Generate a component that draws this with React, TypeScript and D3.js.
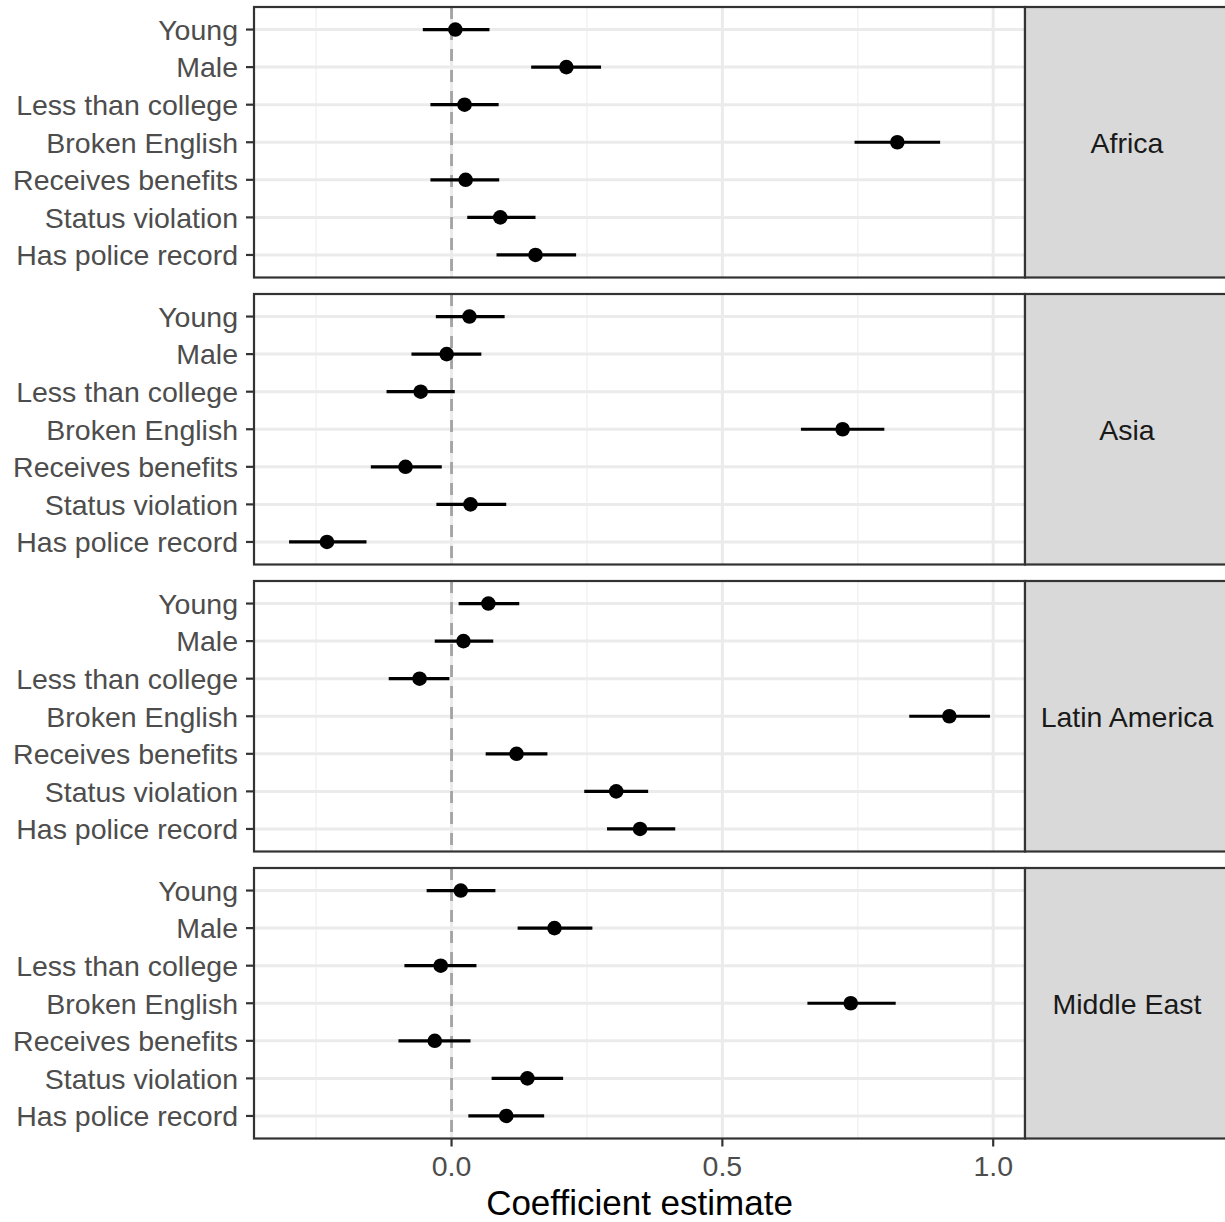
import React from "react";
import * as d3 from "d3";

// facet regions
const regions = ["Africa", "Asia", "Latin America", "Middle East"];

// predictors, top to bottom
const predictors = [
  "Young",
  "Male",
  "Less than college",
  "Broken English",
  "Receives benefits",
  "Status violation",
  "Has police record",
];

// point estimates per region (same order as predictors)
const estAfrica = [0.007, 0.212, 0.024, 0.823, 0.026, 0.09, 0.155];
const estAsia = [0.033, -0.009, -0.057, 0.722, -0.085, 0.035, -0.23];
const estLatin = [0.068, 0.022, -0.059, 0.919, 0.12, 0.304, 0.348];
const estMiddle = [0.017, 0.19, -0.02, 0.737, -0.031, 0.14, 0.101];

// lower / upper confidence bounds
const lowAfrica = [-0.053, 0.147, -0.039, 0.744, -0.039, 0.029, 0.083];
const highAfrica = [0.07, 0.276, 0.087, 0.902, 0.088, 0.155, 0.23];
const lowAsia = [-0.029, -0.074, -0.12, 0.645, -0.149, -0.028, -0.3];
const highAsia = [0.098, 0.055, 0.006, 0.799, -0.018, 0.101, -0.157];
const lowLatin = [0.013, -0.031, -0.116, 0.845, 0.063, 0.245, 0.287];
const highLatin = [0.125, 0.077, -0.004, 0.994, 0.177, 0.363, 0.413];
const lowMiddle = [-0.046, 0.122, -0.087, 0.657, -0.098, 0.074, 0.031];
const highMiddle = [0.081, 0.26, 0.046, 0.82, 0.035, 0.206, 0.171];

const xTicks = [0, 0.5, 1.0];
const xMinor = [-0.25, 0.25, 0.75];

const estimates = [estAfrica, estAsia, estLatin, estMiddle];
const lows = [lowAfrica, lowAsia, lowLatin, lowMiddle];
const highs = [highAfrica, highAsia, highLatin, highMiddle];

const W = 1225;
const H = 1222;
const panelLeft = 254;
const panelRight = 1025;
const firstTop = 7;
const panelH = 270.5;
const gap = 16.5;
const font = "'Liberation Sans', Arial, Helvetica, sans-serif";
const smallSize = 28.5;
const titleSize = 35;

export default function App() {
  const allLow = d3.min(lows.flat()) as number;
  const allHigh = d3.max(highs.flat()) as number;
  const pad = (allHigh - allLow) * 0.05;
  const x = d3.scaleLinear().domain([allLow - pad, allHigh + pad]).range([panelLeft, panelRight]);

  // discrete axis, 0.6 expansion like ggplot
  const y = d3.scalePoint<string>().domain(predictors).range([0, panelH]).padding(0.6);

  const bottom = firstTop + regions.length * panelH + (regions.length - 1) * gap;

  return (
    <svg
      width={W}
      height={H}
      style={{ position: "absolute", left: 0, top: 0, background: "#fff" }}
      fontFamily={font}
    >
      {regions.map((reg, ri) => {
        const top = firstTop + ri * (panelH + gap);
        return (
          <g key={reg} transform={`translate(0,${top})`}>
            <rect x={panelLeft} y={0} width={panelRight - panelLeft} height={panelH} fill="#fff" />
            {xMinor.map((t) => (
              <line key={"m" + t} x1={x(t)} x2={x(t)} y1={0} y2={panelH} stroke="#F2F2F2" strokeWidth={1.5} />
            ))}
            {predictors.map((p) => (
              <line key={"h" + p} x1={panelLeft} x2={panelRight} y1={y(p)} y2={y(p)} stroke="#EBEBEB" strokeWidth={3} />
            ))}
            {xTicks.map((t) => (
              <line key={"v" + t} x1={x(t)} x2={x(t)} y1={0} y2={panelH} stroke="#EBEBEB" strokeWidth={3} />
            ))}
            <line
              x1={x(0)}
              x2={x(0)}
              y1={0}
              y2={panelH}
              stroke="#A3A3A3"
              strokeWidth={2.8}
              strokeDasharray="12,9"
            />
            {predictors.map((p, i) => (
              <g key={"e" + p}>
                <line
                  x1={x(lows[ri][i])}
                  x2={x(highs[ri][i])}
                  y1={y(p)}
                  y2={y(p)}
                  stroke="#000"
                  strokeWidth={3.2}
                />
                <circle cx={x(estimates[ri][i])} cy={y(p)} r={7.3} fill="#000" />
              </g>
            ))}
            <rect
              x={panelLeft}
              y={0}
              width={panelRight - panelLeft}
              height={panelH}
              fill="none"
              stroke="#333333"
              strokeWidth={2.2}
            />
            {predictors.map((p) => (
              <g key={"t" + p}>
                <line x1={panelLeft - 8} x2={panelLeft} y1={y(p)} y2={y(p)} stroke="#333333" strokeWidth={2.2} />
                <text
                  x={panelLeft - 16}
                  y={y(p)}
                  dy="0.36em"
                  textAnchor="end"
                  fontSize={smallSize}
                  fill="#4D4D4D"
                >
                  {p}
                </text>
              </g>
            ))}
            <rect
              x={panelRight}
              y={0}
              width={W - panelRight + 2}
              height={panelH}
              fill="#D9D9D9"
              stroke="#333333"
              strokeWidth={2.2}
            />
            <text
              x={(panelRight + W) / 2 + 2}
              y={panelH / 2}
              dy="0.36em"
              textAnchor="middle"
              fontSize={smallSize}
              fill="#1A1A1A"
            >
              {reg}
            </text>
          </g>
        );
      })}
      {xTicks.map((t) => (
        <g key={"xt" + t}>
          <line x1={x(t)} x2={x(t)} y1={bottom} y2={bottom + 8} stroke="#333333" strokeWidth={2.2} />
          <text x={x(t)} y={bottom + 27} dy="0.36em" textAnchor="middle" fontSize={smallSize} fill="#4D4D4D">
            {d3.format(".1f")(t)}
          </text>
        </g>
      ))}
      <text x={(panelLeft + panelRight) / 2} y={bottom + 64} dy="0.36em" textAnchor="middle" fontSize={titleSize} fill="#000">
        Coefficient estimate
      </text>
    </svg>
  );
}
